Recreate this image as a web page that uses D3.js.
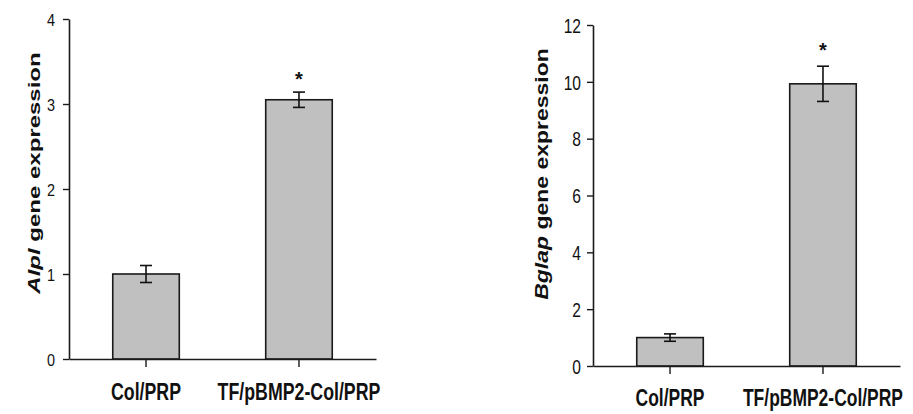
<!DOCTYPE html>
<html>
<head>
<meta charset="utf-8">
<script src="https://cdn.jsdelivr.net/npm/d3@7"></script>
<style>
  body { margin: 0; background: #fff; }
  svg { display: block; font-family: Arial, "Liberation Sans", sans-serif; }
</style>
</head>
<body>
<div id="main"></div>
<script>
var width = 913;
var height = 414;

// data
var categories = ["Col/PRP", "TF/pBMP2-Col/PRP"];
var alplMean = [1.0, 3.05];
var alplErr = [0.1, 0.09];
var bglapMean = [1.0, 9.93];
var bglapErr = [0.13, 0.62];
var signif = ["", "*"];
var alplTicks = [0, 1, 2, 3, 4];
var bglapTicks = [0, 2, 4, 6, 8, 10, 12];

var svg = d3.select("#main")
  .append("svg")
  .attr("width", width)
  .attr("height", height);

function drawPanel(p){
  var g = svg.append("g");

  var x = d3.scaleBand()
    .domain(categories)
    .range([p.left, p.right])
    .paddingInner(0.565)
    .paddingOuter(0.286);

  var y = d3.scaleLinear()
    .domain([0, p.max])
    .range([p.bottom, p.top]);

  var rows = categories.map(function(c, i){
    return {cat: c, mean: p.mean[i], err: p.err[i], sig: signif[i]};
  });

  // bars
  g.selectAll(".bar")
    .data(rows)
    .enter()
    .append("rect")
    .attr("class", "bar")
    .attr("x", function(d){ return x(d.cat); })
    .attr("y", function(d){ return y(d.mean); })
    .attr("width", x.bandwidth())
    .attr("height", function(d){ return y(0) - y(d.mean); })
    .attr("fill", "#c0c0c0")
    .attr("stroke", "#1a1a1a")
    .attr("stroke-width", 1.6);

  // error bars
  var eb = g.selectAll(".err")
    .data(rows)
    .enter()
    .append("g")
    .attr("class", "err")
    .attr("stroke", "#111")
    .attr("stroke-width", 1.6);
  var cx = function(d){ return x(d.cat) + x.bandwidth() / 2; };
  eb.append("line")
    .attr("x1", cx).attr("x2", cx)
    .attr("y1", function(d){ return y(d.mean + d.err); })
    .attr("y2", function(d){ return y(d.mean - d.err); });
  eb.append("line")
    .attr("x1", function(d){ return cx(d) - 6; })
    .attr("x2", function(d){ return cx(d) + 6; })
    .attr("y1", function(d){ return y(d.mean + d.err); })
    .attr("y2", function(d){ return y(d.mean + d.err); });
  eb.append("line")
    .attr("x1", function(d){ return cx(d) - 6; })
    .attr("x2", function(d){ return cx(d) + 6; })
    .attr("y1", function(d){ return y(d.mean - d.err); })
    .attr("y2", function(d){ return y(d.mean - d.err); });

  // significance stars
  g.selectAll(".sig")
    .data(rows.filter(function(d){ return d.sig; }))
    .enter()
    .append("text")
    .attr("class", "sig")
    .attr("x", cx)
    .attr("y", function(d){ return y(d.mean + d.err) - p.starGap; })
    .attr("text-anchor", "middle")
    .attr("font-size", 20)
    .attr("font-weight", "bold")
    .attr("fill", "#111")
    .text(function(d){ return d.sig; });

  // y axis
  var yAxis = g.append("g")
    .attr("transform", "translate(" + p.left + ",0)")
    .call(d3.axisLeft(y).tickValues(p.ticks).tickFormat(d3.format("d"))
      .tickSize(6).tickSizeOuter(0));
  yAxis.select(".domain").attr("stroke", "#1a1a1a").attr("stroke-width", 1.6);
  yAxis.selectAll(".tick line").attr("stroke", "#1a1a1a").attr("stroke-width", 1.4);
  yAxis.selectAll(".tick text")
    .attr("x", 0)
    .attr("dy", "0.36em")
    .attr("transform", "translate(" + (-p.tickGap) + ",0) scale(" + p.tickScale + ",1)")
    .attr("font-size", p.tickFont)
    .attr("font-family", null)
    .attr("fill", "#111");

  // x axis
  var xAxis = g.append("g")
    .attr("transform", "translate(0," + p.bottom + ")")
    .call(d3.axisBottom(x).tickSize(8).tickSizeOuter(0));
  xAxis.select(".domain").attr("stroke", "#1a1a1a").attr("stroke-width", 1.6);
  xAxis.selectAll(".tick line").attr("stroke", "#1a1a1a").attr("stroke-width", 1.4);
  xAxis.selectAll(".tick text")
    .attr("y", 0)
    .attr("dy", null)
    .attr("transform", "translate(0," + p.catGap + ") scale(" + p.catScale + ",1)")
    .attr("font-size", p.catFont)
    .attr("font-weight", "bold")
    .attr("font-family", null)
    .attr("fill", "#111");

  // y label, gene name in italics
  var lab = g.append("text")
    .attr("text-anchor", "middle")
    .attr("transform", "translate(" + p.labX + "," + p.labY + ") scale(" + p.labScale + ",1) rotate(-90)")
    .attr("font-size", p.labFont)
    .attr("font-weight", "bold")
    .attr("fill", "#111");
  lab.append("tspan").attr("font-style", "italic").text(p.gene);
  lab.append("tspan").text(" gene expression");
}

drawPanel({
  gene: "Alpl", mean: alplMean, err: alplErr, ticks: alplTicks, max: 4,
  left: 69, right: 376, top: 19, bottom: 359,
  tickFont: 17, tickScale: 0.85, tickGap: 14,
  catFont: 24, catScale: 0.74, catGap: 41,
  labX: 39.5, labY: 173, labFont: 24, labScale: 0.66,
  starGap: 6
});

drawPanel({
  gene: "Bglap", mean: bglapMean, err: bglapErr, ticks: bglapTicks, max: 12,
  left: 593, right: 900, top: 25, bottom: 366,
  tickFont: 20, tickScale: 0.78, tickGap: 12,
  catFont: 23, catScale: 0.76, catGap: 40,
  labX: 547.5, labY: 174, labFont: 23, labScale: 0.82,
  starGap: 9
});
</script>
</body>
</html>
